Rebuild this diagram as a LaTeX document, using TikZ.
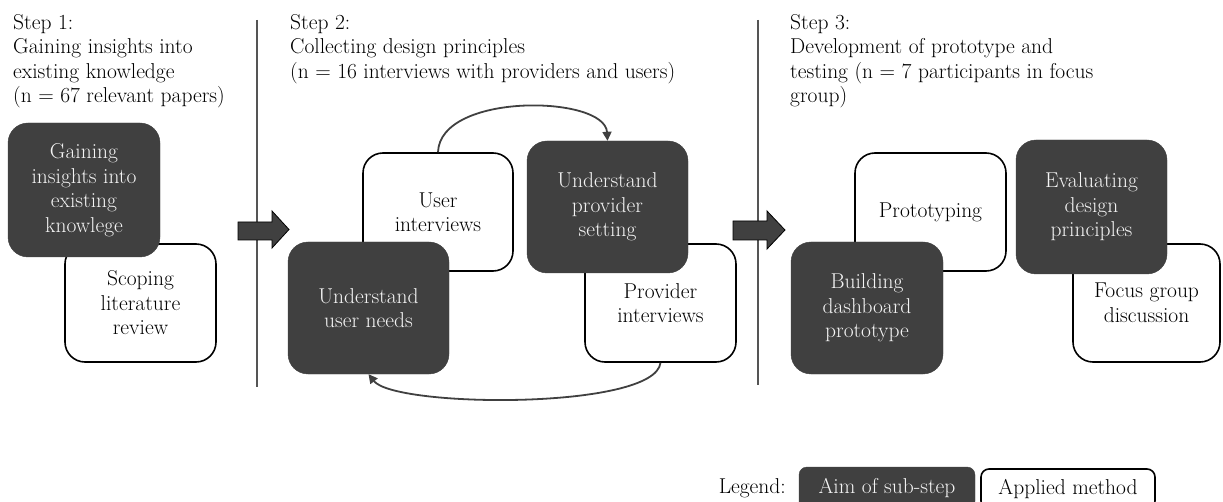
\documentclass[tikz,border=0pt]{standalone}
\usepackage{fontspec}
\usetikzlibrary{arrows.meta}
\definecolor{boxdark}{HTML}{404040}
\definecolor{divgray}{HTML}{555555}
\definecolor{lighttext}{HTML}{F4F4F4}
\begin{document}
\begin{tikzpicture}[x=1pt,y=-1pt,
 every node/.style={font=\fontsize{21.5}{24.5}\selectfont},
 aim/.style={fill=boxdark, draw=boxdark, rounded corners=20pt, text=lighttext, align=center, inner sep=0pt},
 method/.style={fill=white, draw=black, line width=1.6pt, rounded corners=20pt, align=center, inner sep=0pt},
 hdr/.style={anchor=north west, align=left, inner sep=0pt},
 divider/.style={draw=divgray, line width=1.3pt},
 blockarrow/.style={fill=boxdark, draw=black, line width=0.8pt},
 loopline/.style={draw=boxdark, line width=1.8pt, -{Triangle[length=9pt,width=9pt]}}
]
\useasboundingbox (0,0) rectangle (1223,502);

% headers
\node[hdr] (h1) at (13,14) {Step 1:\\Gaining insights into\\existing knowledge\\(n = 67 relevant papers)};
\node[hdr] (h2) at (290,14) {Step 2:\\Collecting design principles\\(n = 16 interviews with providers and users)};
\node[hdr] (h3) at (790,14) {Step 3:\\Development of prototype and\\testing (n = 7 participants in focus\\group)};

% dividers
\coordinate (d1t) at (257,20); \coordinate (d1b) at (257,387);
\coordinate (d2t) at (758,20); \coordinate (d2b) at (758,385);
\draw[divider] (d1t) -- (d1b);
\draw[divider] (d2t) -- (d2b);

% block arrows
\draw[blockarrow] (238,222) -- (272,222) -- (272,211) -- (289,229.5) -- (272,248) -- (272,240) -- (238,240) -- cycle;
\draw[blockarrow] (733,221) -- (767,221) -- (767,211) -- (785,230) -- (767,249) -- (767,240) -- (733,240) -- cycle;

% step 1
\node[method, minimum width=151pt, minimum height=118pt] (s1) at (140.5,303) {Scoping\\literature\\review};
\node[aim, minimum width=152pt, minimum height=134pt] (g1) at (84,190) {Gaining\\insights into\\existing\\knowlege};

% step 2
\node[method, minimum width=150pt, minimum height=118pt] (ui) at (438,212) {User\\interviews};
\node[method, minimum width=151pt, minimum height=118pt] (pi) at (660.5,303) {Provider\\interviews};
\node[aim, minimum width=161pt, minimum height=132pt] (un) at (368.5,308) {Understand\\user needs};
\node[aim, minimum width=161pt, minimum height=132pt] (ps) at (607.5,207) {Understand\\provider\\setting};

\draw[loopline] (ui.north) .. controls (440,92) and (605,95) .. (ps.north);
\draw[loopline] (pi.south) .. controls (655,410) and (395,408) .. (un.south);

% step 3
\node[method, minimum width=151pt, minimum height=118pt] (pr) at (930.5,212) {Prototyping};
\node[method, minimum width=147pt, minimum height=118pt] (fg) at (1146.5,303) {Focus group\\discussion};
\node[aim, minimum width=152pt, minimum height=132pt] (bd) at (867,308) {Building\\dashboard\\prototype};
\node[aim, minimum width=151pt, minimum height=134pt] (ev) at (1091.5,207) {Evaluating\\design\\principles};

% legend
\node[anchor=east, inner sep=0pt] (lg) at (786,488) {Legend:};
\node[aim, rounded corners=8pt, minimum width=176pt, minimum height=42pt] (la) at (887,488) {Aim of sub-step};
\node[method, rounded corners=8pt, minimum width=174pt, minimum height=40pt] (lm) at (1068,489) {Applied method};
\end{tikzpicture}
\end{document}
